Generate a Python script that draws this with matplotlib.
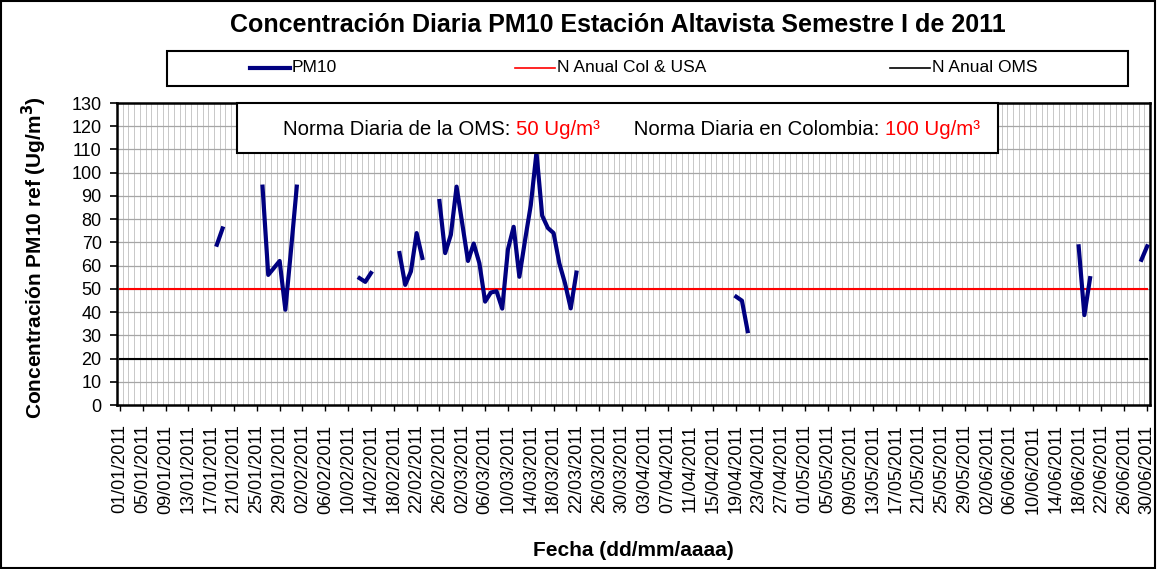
import numpy as np
import pandas as pd
import matplotlib
matplotlib.use("Agg")
import matplotlib.pyplot as plt
from matplotlib.lines import Line2D
from matplotlib.patches import Rectangle

plt.rcParams['font.family'] = ['Liberation Sans', 'DejaVu Sans']

# Daily PM10 values (days without data are left out)
fechas = ["2011-01-18", "2011-01-19",
          "2011-01-26", "2011-01-27", "2011-01-28", "2011-01-29", "2011-01-30", "2011-01-31", "2011-02-01",
          "2011-02-12", "2011-02-13", "2011-02-14",
          "2011-02-19", "2011-02-20", "2011-02-21", "2011-02-22", "2011-02-23",
          "2011-02-26", "2011-02-27", "2011-02-28", "2011-03-01", "2011-03-02", "2011-03-03", "2011-03-04",
          "2011-03-05", "2011-03-06", "2011-03-07", "2011-03-08", "2011-03-09", "2011-03-10", "2011-03-11",
          "2011-03-12", "2011-03-13", "2011-03-14", "2011-03-15", "2011-03-16", "2011-03-17", "2011-03-18",
          "2011-03-19", "2011-03-20", "2011-03-21", "2011-03-22",
          "2011-04-19", "2011-04-20", "2011-04-21",
          "2011-06-18", "2011-06-19", "2011-06-20",
          "2011-06-29", "2011-06-30"]
pm10 = [69, 76,
        94, 56, 59, 62, 41, 67, 94,
        54.6, 53, 56.8,
        65.4, 51.7, 57.5, 74, 63.3,
        87.8, 65.4, 73.3, 94, 78, 62, 69.5,
        61, 44.5, 48.4, 49, 41.5, 67, 76.7,
        55.2, 71, 86, 108.7, 81.5, 76.2, 74,
        61, 52.4, 41.6, 57,
        46.6, 44.9, 31.8,
        68.3, 38.7, 54.6,
        62.5, 68.3]

norma_col_usa = 50   # N Anual Col & USA
norma_oms = 20       # N Anual OMS

dias = pd.date_range("2011-01-01", "2011-06-30", freq="D")
serie = pd.Series(pm10, index=pd.to_datetime(fechas)).reindex(dias)
x = np.arange(len(dias))
etiquetas = [d.strftime("%d/%m/%Y") for d in dias]

fig = plt.figure(figsize=(11.57, 5.69), dpi=100)
W, H = 1157, 569
ax = fig.add_axes([117 / W, 1 - 405 / H, 1033 / W, 302 / H])

# grid
for k in range(len(dias) + 1):
    ax.axvline(k - 0.5, color='#c8c8c8', lw=0.7, zorder=0)
for v in range(10, 130, 10):
    ax.axhline(v, color='#a6a6a6', lw=0.9, zorder=0)

ax.plot(x, np.full(len(x), norma_col_usa), color='red', lw=1.5, zorder=2)
ax.plot(x, np.full(len(x), norma_oms), color='black', lw=1.5, zorder=2)
ax.plot(x, serie.values, color='#000080', lw=3, zorder=3)

ax.set_xlim(-0.5, len(dias) - 0.5)
ax.set_ylim(0, 130)
ax.set_yticks(range(0, 131, 10))
ax.set_xticks(x[::4])
ax.set_xticklabels(etiquetas[::4], rotation=90, fontsize=13)
ax.tick_params(axis='y', labelsize=13, length=5, width=1.2, pad=6)
ax.tick_params(axis='x', length=4, width=1, pad=10)
for s in ax.spines.values():
    s.set_linewidth(1.8)

# title and axis titles
fig.text(618 / W, 1 - 25 / H, "Concentración Diaria PM10 Estación Altavista Semestre I de 2011",
         ha='center', va='center', fontsize=18, fontweight='bold')
fig.text(34 / W, 1 - 258 / H, "Concentración PM10 ref (Ug/m$^\\mathbf{3}$)", rotation=90,
         ha='center', va='center', fontsize=15, fontweight='bold')
fig.text(633 / W, 1 - 550 / H, "Fecha (dd/mm/aaaa)", ha='center', va='center',
         fontsize=15, fontweight='bold')

# legend box
fig.patches.append(Rectangle((167 / W, 1 - 86 / H), 961 / W, 35 / H, transform=fig.transFigure,
                             facecolor='white', edgecolor='black', lw=1.5))
leg_items = [("PM10", '#000080', 3, 250), ("N Anual Col & USA", 'red', 1.2, 515),
             ("N Anual OMS", 'black', 1.2, 890)]
for nombre, col, lw, px in leg_items:
    fig.lines.append(Line2D([px / W, (px + 40) / W], [1 - 68 / H, 1 - 68 / H],
                           transform=fig.transFigure, color=col, lw=lw))
    fig.text((px + 42) / W, 1 - 68 / H, nombre, ha='left', va='center', fontsize=12.5)

# norms text box
fig.patches.append(Rectangle((237 / W, 1 - 153 / H), 761 / W, 50 / H, transform=fig.transFigure,
                             facecolor='white', edgecolor='black', lw=1.5, zorder=5))
t1 = fig.text(283 / W, 1 - 135 / H, "Norma Diaria de la OMS: ", fontsize=14.7, va='baseline', zorder=6)
t2 = fig.text(0, 0, "50 Ug/m³", color='red', fontsize=14.7, zorder=6)
t3 = fig.text(0, 0, "      Norma Diaria en Colombia: ", fontsize=14.7, zorder=6)
t4 = fig.text(0, 0, "100 Ug/m³", color='red', fontsize=14.7, zorder=6)
prev = t1
fig.canvas.draw()
r = fig.canvas.get_renderer()
for t in (t2, t3, t4):
    bb = prev.get_window_extent(r)
    t.set_position((bb.x1 / fig.bbox.width, 1 - 135 / H))
    t.set_va('baseline')
    fig.canvas.draw()
    prev = t

# chart border
fig.patches.append(Rectangle((0.001, 0.001), 0.997, 0.997, transform=fig.transFigure,
                             facecolor='none', edgecolor='black', lw=1.5))

fig.savefig("out.png", dpi=100)
